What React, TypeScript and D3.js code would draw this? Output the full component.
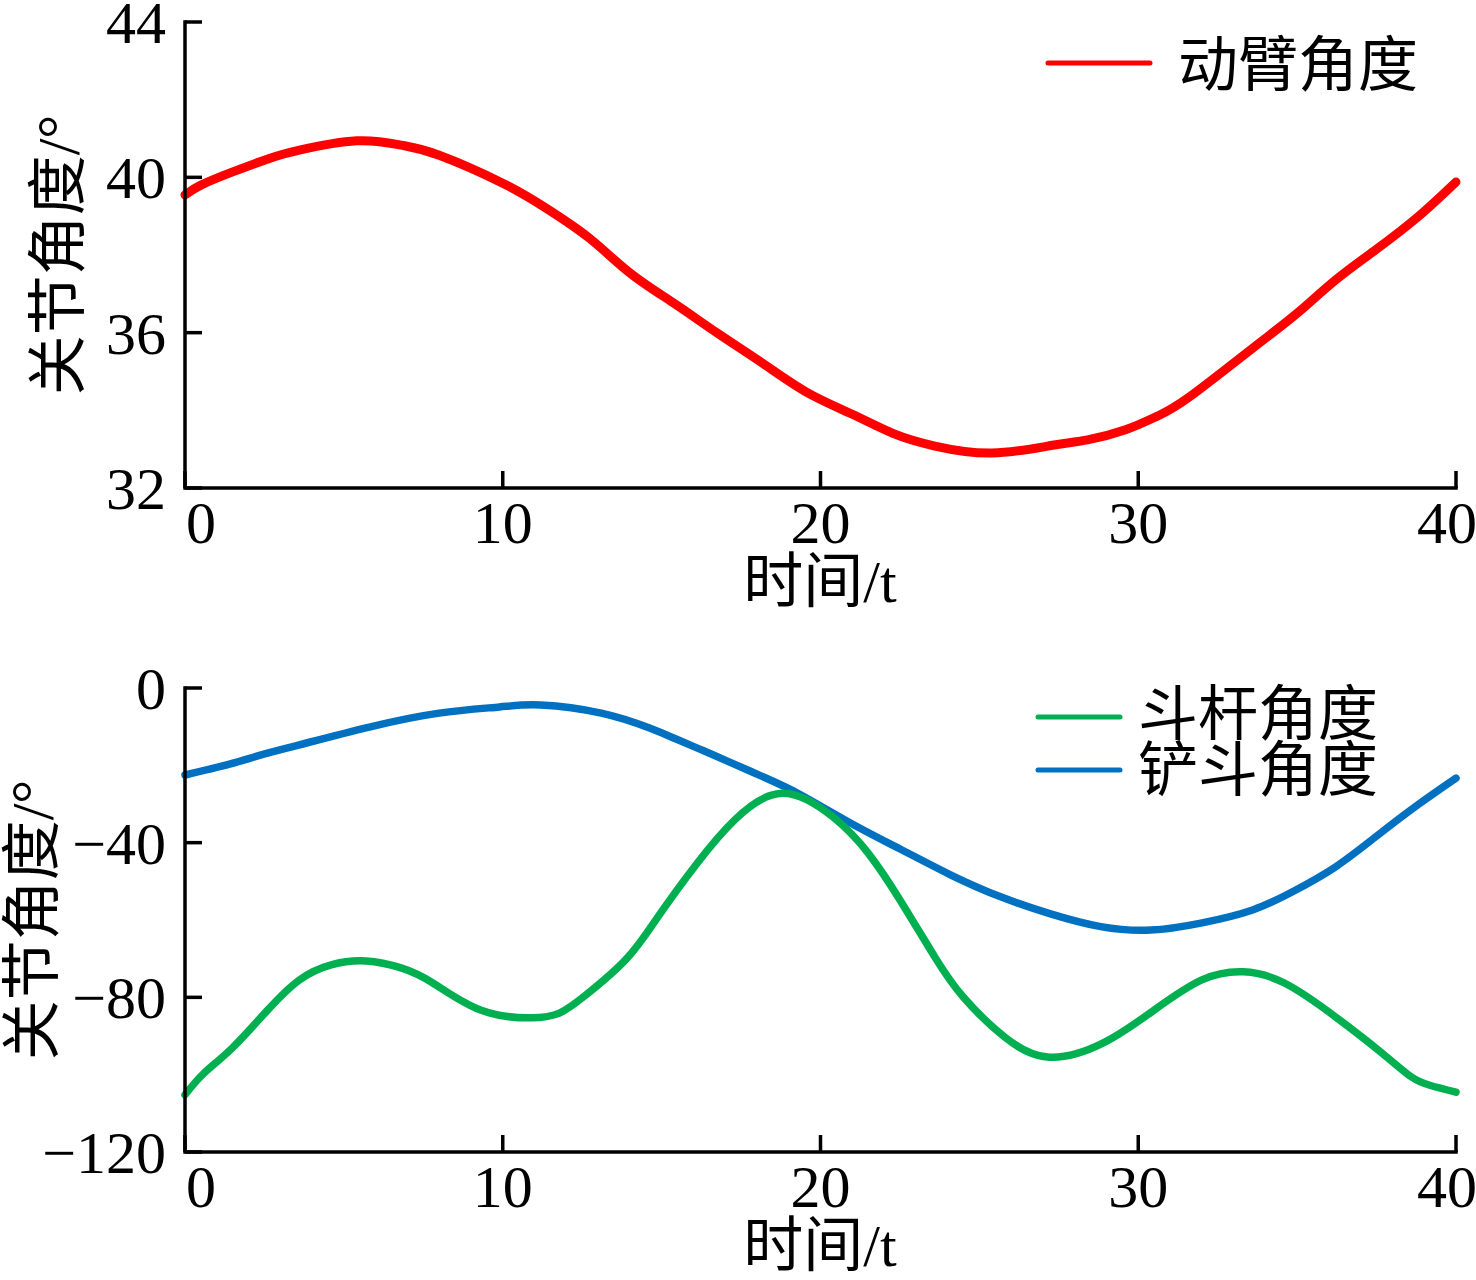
import React from "react";
import * as d3 from "d3";

// ---- data ----
const xTicks = [0, 10, 20, 30, 40];
const armTicks = [32, 36, 40, 44];
const lowerTicks = [-120, -80, -40, 0];

const armT = [0, 0.5, 1.5, 2.7, 3.6, 5.4, 6.8, 8, 10, 11.3, 12.7, 14, 15.4, 16.75, 18.2, 19.6, 21.0, 22.3, 23.6, 25.4, 27.3, 28.4, 29.6, 30.6, 31.6, 33.6, 35.0, 36.2, 37.5, 38.8, 40];
const armV = [39.55, 39.8, 40.14, 40.5, 40.7, 40.94, 40.83, 40.57, 39.85, 39.24, 38.45, 37.54, 36.75, 35.99, 35.2, 34.45, 33.9, 33.4, 33.08, 32.9, 33.1, 33.24, 33.5, 33.85, 34.34, 35.6, 36.5, 37.35, 38.15, 38.98, 39.88];

const stickT = [0, 0.6, 1.5, 2.6, 3.6, 4.6, 5.7, 6.8, 7.8, 9.3, 10.9, 11.8, 12.6, 13.9, 14.9, 16.1, 17.3, 18.8, 20.4, 21.5, 22.5, 23.6, 24.5, 25.8, 27.2, 28.9, 30.5, 32, 33.3, 34.6, 36.2, 37.7, 38.6, 39.2, 40];
const stickV = [-105.2, -99.6, -93, -83.3, -75.5, -71.6, -70.6, -72.4, -76.3, -83.3, -85.3, -84, -79.5, -70, -59, -45.5, -34.1, -27.2, -33.4, -42.7, -54.8, -69.6, -80, -90.3, -95.5, -91.8, -83.3, -75.5, -73.4, -76.3, -85, -94.6, -100.6, -102.8, -104.5];

const bucketT = [0, 1.4, 2.4, 3.6, 5.8, 8, 9.9, 11.2, 13.1, 14.6, 15.4, 16.2, 17.07, 18.2, 19.37, 20.94, 22.52, 24.09, 25.67, 27.24, 28.82, 30.39, 31.97, 33.6, 34.9, 36.2, 37.5, 38.8, 40];
const bucketV = [-22.5, -19.7, -17.3, -14.7, -10.1, -6.5, -4.9, -4.4, -6.5, -10.3, -13, -15.8, -18.9, -23, -27.6, -34.9, -41.7, -48.3, -54.0, -58.4, -61.7, -62.6, -60.8, -57.4, -52.5, -46.3, -38.3, -30.2, -23.3];

const xTitle = "时间/t";
const yTitle = "关节角度/°";
const armName = "动臂角度";
const stickName = "斗杆角度";
const bucketName = "铲斗角度";

const RED = "#ff0000";
const GREEN = "#00b050";
const BLUE = "#0070c0";

const FONT = "'Liberation Serif', 'Times New Roman', 'Noto Sans CJK SC', serif";

const fmt = (v: number) => (v < 0 ? "\u2212" + Math.abs(v) : String(v));

type PanelProps = {
  domain: [number, number];
  top: number;
  bottom: number;
  ticks: number[];
  series: { t: number[]; v: number[]; color: string; width: number }[];
  titleX: number;
};

const X0 = 185;
const X1 = 1456;

function Panel({ domain, top, bottom, ticks, series, titleX }: PanelProps) {
  const x = d3.scaleLinear().domain([0, 40]).range([X0, X1]);
  const y = d3.scaleLinear().domain(domain).range([bottom, top]);
  const line = d3
    .line<[number, number]>()
    .x((d) => x(d[0]))
    .y((d) => y(d[1]))
    .curve(d3.curveNatural);
  const tickLen = 17;
  const labelShift = (i: number) => (i === 0 ? 16 : i === xTicks.length - 1 ? -9 : 0);
  return (
    <g>
      {series.map((s, i) => (
        <path
          key={i}
          d={line(s.t.map((t, j) => [t, s.v[j]] as [number, number])) || ""}
          fill="none"
          stroke={s.color}
          strokeWidth={s.width}
          strokeLinecap="round"
          strokeLinejoin="round"
        />
      ))}
      <path
        d={`M${X0},${y(domain[1])}V${bottom}H${X1}`}
        fill="none"
        stroke="#000"
        strokeWidth={3.5}
        strokeLinecap="square"
      />
      {ticks.map((t) => (
        <g key={"y" + t}>
          <line x1={X0} x2={X0 + tickLen} y1={y(t)} y2={y(t)} stroke="#000" strokeWidth={3.5} />
          <text x={166} y={y(t) + 21} textAnchor="end" fontSize={60} fontFamily={FONT}>
            {fmt(t)}
          </text>
        </g>
      ))}
      {xTicks.map((t, i) => (
        <g key={"x" + t}>
          <line x1={x(t)} x2={x(t)} y1={bottom} y2={bottom - tickLen} stroke="#000" strokeWidth={3.5} />
          <text x={x(t) + labelShift(i)} y={bottom + 55} textAnchor="middle" fontSize={60} fontFamily={FONT}>
            {fmt(t)}
          </text>
        </g>
      ))}
      <text x={820} y={bottom + 114} textAnchor="middle" fontSize={60} fontFamily={FONT}>
        {xTitle}
      </text>
      <text
        transform={`translate(${titleX},${(top + bottom) / 2}) rotate(-90)`}
        textAnchor="middle"
        dominantBaseline="central"
        fontSize={60}
        fontFamily={FONT}
      >
        {yTitle}
      </text>
    </g>
  );
}

export default function App() {
  return (
    <svg
      width={1476}
      height={1280}
      viewBox="0 0 1476 1280"
      style={{ position: "absolute", left: 0, top: 0, background: "#fff" }}
    >
      <rect width={1476} height={1280} fill="#fff" />
      <Panel
        domain={[32, 44]}
        top={22}
        bottom={488}
        ticks={armTicks}
        titleX={59}
        series={[{ t: armT, v: armV, color: RED, width: 9 }]}
      />
      <Panel
        domain={[-120, 0]}
        top={688}
        bottom={1152}
        ticks={lowerTicks}
        titleX={33}
        series={[
          { t: bucketT, v: bucketV, color: BLUE, width: 7.5 },
          { t: stickT, v: stickV, color: GREEN, width: 7.5 },
        ]}
      />
      {/* legends */}
      <g fontFamily={FONT} fontSize={60}>
        <line x1={1048} x2={1150} y1={63} y2={63} stroke={RED} strokeWidth={5} strokeLinecap="round" />
        <text x={1178} y={66} dominantBaseline="central">{armName}</text>
        <line x1={1038} x2={1120} y1={717} y2={717} stroke={GREEN} strokeWidth={5} strokeLinecap="round" />
        <text x={1138} y={715} dominantBaseline="central">{stickName}</text>
        <line x1={1038} x2={1120} y1={770} y2={770} stroke={BLUE} strokeWidth={5} strokeLinecap="round" />
        <text x={1138} y={771} dominantBaseline="central">{bucketName}</text>
      </g>
    </svg>
  );
}
